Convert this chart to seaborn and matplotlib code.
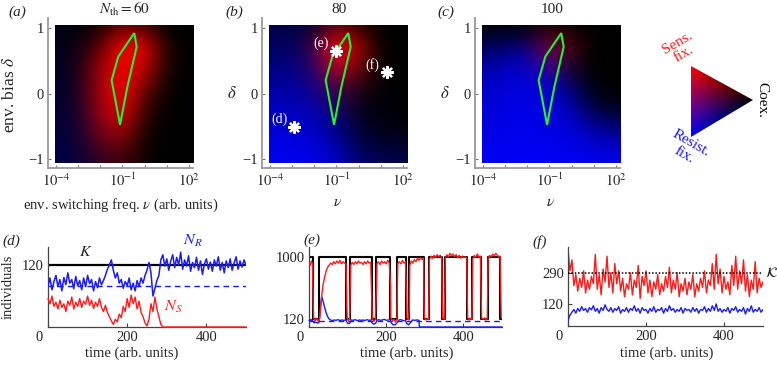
import numpy as np
import matplotlib
matplotlib.use('Agg')
import matplotlib.pyplot as plt
from matplotlib.patches import Polygon, Rectangle
from matplotlib.transforms import ScaledTranslation
import seaborn as sns

# ---------------- data ----------------
# heat map grids: rows delta = 1 ... -1 (step 0.25), cols log10(v) = -4 ... 2
log_v = [-4, -3, -2, -1, 0, 1, 2]
delta = [1, 0.75, 0.5, 0.25, 0, -0.25, -0.5, -0.75, -1]

red_a = [[0, 0, 0.08, 0.45, 0.30, 0, 0],
         [0, 0.04, 0.35, 1.00, 0.85, 0.10, 0],
         [0, 0.07, 0.55, 1.00, 0.80, 0.10, 0],
         [0, 0.09, 0.65, 1.00, 0.60, 0.06, 0],
         [0, 0.09, 0.65, 1.00, 0.35, 0.03, 0],
         [0, 0.08, 0.60, 0.90, 0.20, 0.02, 0],
         [0, 0.06, 0.50, 0.70, 0.10, 0, 0],
         [0, 0.04, 0.35, 0.45, 0.05, 0, 0],
         [0, 0.02, 0.20, 0.25, 0.03, 0, 0]]
blue_a = [[0.08, 0.04, 0, 0, 0, 0, 0],
          [0.10, 0.06, 0.01, 0, 0, 0, 0],
          [0.13, 0.08, 0.02, 0, 0, 0, 0],
          [0.16, 0.10, 0.03, 0, 0, 0, 0],
          [0.18, 0.13, 0.04, 0, 0, 0, 0],
          [0.20, 0.16, 0.06, 0.01, 0, 0, 0],
          [0.23, 0.18, 0.08, 0.02, 0, 0, 0],
          [0.26, 0.20, 0.10, 0.03, 0, 0, 0],
          [0.28, 0.23, 0.12, 0.04, 0.01, 0, 0]]

red_b = [[0, 0, 0.05, 0.45, 0.20, 0, 0],
         [0, 0, 0.22, 1.00, 0.60, 0.02, 0],
         [0, 0, 0.20, 0.90, 0.50, 0.02, 0],
         [0, 0, 0.12, 0.50, 0.28, 0.01, 0],
         [0, 0, 0.05, 0.22, 0.10, 0, 0],
         [0, 0, 0.02, 0.08, 0.04, 0, 0],
         [0, 0, 0, 0, 0, 0, 0],
         [0, 0, 0, 0, 0, 0, 0],
         [0, 0, 0, 0, 0, 0, 0]]
blue_b = [[0.30, 0.28, 0.18, 0.04, 0, 0, 0],
          [0.38, 0.36, 0.25, 0.05, 0.01, 0, 0],
          [0.48, 0.46, 0.35, 0.10, 0.03, 0, 0],
          [0.58, 0.56, 0.45, 0.20, 0.05, 0.01, 0],
          [0.68, 0.66, 0.56, 0.30, 0.08, 0.02, 0],
          [0.76, 0.75, 0.67, 0.40, 0.12, 0.04, 0.02],
          [0.84, 0.82, 0.76, 0.52, 0.18, 0.08, 0.05],
          [0.90, 0.89, 0.84, 0.64, 0.28, 0.18, 0.15],
          [0.94, 0.93, 0.91, 0.76, 0.45, 0.32, 0.28]]

red_c = [[0, 0, 0.02, 0.15, 0.05, 0, 0],
         [0, 0, 0.05, 0.50, 0.25, 0, 0],
         [0, 0, 0.03, 0.35, 0.15, 0, 0],
         [0, 0, 0.01, 0.12, 0.05, 0, 0],
         [0, 0, 0, 0, 0, 0, 0],
         [0, 0, 0, 0, 0, 0, 0],
         [0, 0, 0, 0, 0, 0, 0],
         [0, 0, 0, 0, 0, 0, 0],
         [0, 0, 0, 0, 0, 0, 0]]
blue_c = [[0.03, 0.06, 0.06, 0.03, 0, 0, 0],
          [0.28, 0.40, 0.38, 0.20, 0.04, 0, 0],
          [0.55, 0.70, 0.70, 0.45, 0.10, 0, 0],
          [0.70, 0.82, 0.82, 0.70, 0.25, 0.02, 0],
          [0.78, 0.88, 0.88, 0.82, 0.50, 0.08, 0.02],
          [0.82, 0.90, 0.90, 0.88, 0.70, 0.30, 0.15],
          [0.86, 0.92, 0.92, 0.90, 0.82, 0.60, 0.45],
          [0.90, 0.94, 0.94, 0.93, 0.90, 0.80, 0.75],
          [0.95, 0.96, 0.96, 0.96, 0.95, 0.92, 0.90]]

titles = [r'$N_{\rm th}=60$', '80', '100']

# green contour (log10 v, delta)
contour_logv = [-0.47, -0.36, -0.78, -1.11, -1.49, -1.19]
contour_delta = [0.93, 0.72, 0.11, -0.47, 0.21, 0.57]

# marked points in (b)
pts_logv = [-2.9, -1.0, 1.3]
pts_delta = [-0.5, 0.66, 0.33]
pts_labels = ['(d)', '(e)', '(f)']

# (d) time series, t = 0..500 step 5
t_d = np.arange(0, 505, 5)
d_nr = [80, 95, 72, 88, 100, 78, 92, 70, 96, 82,
        105, 85, 92, 74, 98, 80, 90, 72, 95, 78,
        100, 84, 92, 70, 88, 76, 95, 82, 90, 100,
        112, 120, 130, 110, 95, 105, 85, 92, 75, 88,
        80, 95, 72, 85, 70, 90, 78, 95, 85, 100,
        110, 125, 105, 60, 75, 90, 100, 130, 140, 118,
        132, 110, 128, 140, 115, 135, 120, 145, 112, 130,
        118, 138, 108, 125, 115, 135, 110, 128, 102, 122,
        132, 112, 126, 108, 130, 118, 136, 110, 125, 105,
        128, 115, 132, 110, 124, 136, 112, 128, 116, 130,
        120]
d_ns = [55, 45, 60, 40, 48, 35, 52, 38, 45, 30,
        50, 42, 58, 35, 48, 40, 55, 38, 50, 44,
        60, 42, 52, 36, 48, 40, 55, 38, 30, 42,
        28, 20, 12, 5, 15, 10, 25, 18, 40, 30,
        55, 38, 62, 45, 58, 35, 50, 28, 20, 8,
        2, 15, 45, 30, 58, 35, 20, 5, 0,
        0, 0, 0, 0, 0, 0, 0, 0, 0, 0, 0, 0, 0, 0,
        0, 0, 0, 0, 0, 0, 0, 0, 0, 0, 0, 0, 0, 0,
        0, 0, 0, 0, 0, 0, 0, 0, 0, 0, 0, 0, 0, 0]
d_k = 120
d_nr_fix = 80

# (e) time series
e_k_t = [0, 10, 27, 97, 106, 162, 174, 211, 228, 252, 260, 297, 311, 345, 352, 410, 423, 446, 463, 496, 500]
e_k = [1000, 120, 1000, 120, 1000, 120, 1000, 120, 1000, 120, 1000, 120, 1000, 120, 1000, 120, 1000, 120, 1000, 120, 120]
e_ns_t = [0, 3, 6, 9, 11, 12, 16, 20, 24, 27, 29, 31, 34, 37, 40, 44, 48, 52, 56, 60, 64, 68, 72, 76, 80, 84, 88, 92, 96,
          98, 99, 102, 105, 107, 108, 112, 116, 120, 124, 128, 132, 136, 140, 144, 148, 152, 156, 160,
          163, 164, 168, 172, 175, 176, 180, 184, 188, 192, 196, 200, 204, 208,
          211, 212, 216, 220, 224, 228, 229, 230, 234, 238, 242, 246, 250,
          253, 254, 258, 260, 261, 265, 269, 273, 277, 281, 285, 289, 293, 297,
          298, 299, 303, 307, 310, 311, 312, 316, 320, 324, 328, 332, 336, 340, 344,
          345, 346, 350, 352, 353, 357, 361, 365, 369, 373, 377, 381, 385, 389, 393, 397, 401, 405, 409,
          410, 411, 415, 419, 422, 423, 424, 428, 432, 436, 440, 444,
          446, 447, 451, 455, 459, 462, 463, 464, 468, 472, 476, 480, 484, 488, 492, 495,
          497, 498, 500]
e_ns = [920, 880, 940, 900, 300, 130, 90, 120, 80, 110, 200, 350, 500, 620, 700, 790, 850, 880, 910, 890, 930, 900, 940, 910, 950, 900, 930, 910, 900,
        300, 120, 90, 110, 600, 880, 920, 890, 930, 900, 940, 910, 920, 890, 930, 900, 940, 910, 920,
        300, 120, 80, 110, 600, 900, 930, 890, 940, 910, 930, 900, 950, 910,
        600, 130, 90, 110, 70, 120, 600, 900, 930, 900, 950, 910, 930,
        300, 120, 100, 300, 880, 940, 910, 960, 930, 980, 950, 990, 960, 980,
        300, 130, 100, 120, 110, 600, 960, 1010, 980, 1020, 990, 1030, 1000, 1020, 990,
        400, 130, 110, 500, 980, 1030, 1000, 1050, 1010, 1040, 1000, 1030, 990, 1020, 980, 1010, 990, 1000, 980,
        400, 130, 100, 120, 110, 600, 970, 1020, 990, 1040, 1000, 1010,
        400, 130, 110, 130, 100, 120, 600, 980, 1020, 1000, 1040, 1010, 1050, 1020, 1000, 1010,
        400, 130, 120]
e_nr_t = [0, 4, 8, 10, 14, 18, 22, 26, 28, 30, 33, 36, 40, 44, 48, 52, 56, 60, 65, 70, 75, 80, 85, 90, 96,
          98, 102, 106, 110, 115, 120, 125, 130, 135, 140, 145, 150, 155, 160, 163, 168, 173,
          176, 180, 185, 190, 195, 200, 205, 210, 213, 218, 224, 228, 232, 236, 240, 245, 250,
          253, 258, 262, 268, 274, 280, 285, 286, 500]
e_nr = [95, 90, 100, 80, 60, 70, 55, 65, 150, 300, 430, 380, 290, 210, 150, 115, 100, 90, 100, 95, 105, 92, 100, 95, 100,
        70, 45, 60, 100, 95, 105, 90, 100, 95, 100, 92, 105, 95, 100, 60, 40, 55,
        95, 105, 95, 100, 110, 95, 100, 105, 60, 30, 35, 60, 95, 105, 100, 90, 95,
        50, 30, 60, 100, 95, 100, 95, 0, 0]
e_nr_fix = 90

# (f) time series, t = 0..500 step 5
t_f = np.arange(0, 505, 5)
f_ns = [420, 300, 360, 220, 280, 190, 260, 210, 300, 180,
        250, 200, 270, 230, 390, 200, 280, 170, 310, 240,
        380, 210, 290, 180, 340, 230, 300, 190, 260, 160,
        230, 200, 290, 170, 250, 210, 330, 150, 270, 220,
        300, 180, 250, 160, 240, 200, 280, 170, 230, 190,
        270, 210, 320, 180, 250, 200, 290, 160, 230, 190,
        260, 170, 240, 200, 280, 160, 230, 190, 260, 210,
        300, 180, 250, 220, 340, 200, 390, 230, 310, 180,
        270, 200, 240, 170, 330, 220, 380, 200, 300, 230,
        360, 190, 280, 160, 250, 200, 350, 180, 260, 210,
        240]
f_nr = [30, 60, 75, 90, 70, 95, 80, 105, 85, 95,
        75, 100, 88, 110, 80, 95, 70, 100, 85, 115,
        90, 80, 100, 75, 95, 85, 105, 70, 90, 80,
        100, 75, 95, 85, 110, 80, 95, 70, 100, 85,
        90, 70, 95, 80, 105, 75, 90, 85, 100, 70,
        95, 80, 110, 85, 95, 75, 90, 80, 100, 70,
        95, 85, 90, 75, 100, 80, 95, 70, 90, 85,
        105, 75, 95, 80, 110, 85, 120, 80, 95, 75,
        90, 80, 100, 70, 95, 85, 105, 75, 90, 80,
        100, 65, 95, 80, 110, 75, 90, 80, 100, 75,
        90]
f_k = 290

# ---------------- style ----------------
sns.set_theme(style='ticks')
plt.rcParams['font.family'] = ['Liberation Serif', 'DejaVu Serif']
plt.rcParams['mathtext.fontset'] = 'stix'
plt.rcParams['font.size'] = 10
plt.rcParams['axes.unicode_minus'] = True

RED = '#ff1a1a'
BLUE = '#1a1aff'
GREEN = '#2af02a'
FS = 10.5
W, H = 777, 365

fig = plt.figure(figsize=(W / 100, H / 100), dpi=100)


def px_axes(l, t, r, b):
    return fig.add_axes([l / W, 1 - b / H, (r - l) / W, (b - t) / H])


def ftext(x, y, s, **kw):
    fig.text(x / W, 1 - y / H, s, **kw)


# ---------------- top row: heat maps ----------------
maps = [(48, red_a, blue_a), (262, red_b, blue_b), (475, red_c, blue_c)]
for i, (left, red, blue) in enumerate(maps):
    ax = px_axes(left, 18, left + 145, 168)
    r = np.array(red)
    b = np.array(blue)
    rgb = np.clip(np.dstack([r, np.zeros_like(r), b]), 0, 1)
    im = ax.imshow(rgb, extent=(log_v[0] - 0.5, log_v[-1] + 0.5,
                                delta[-1] - 0.125, delta[0] + 0.125),
                   origin='upper', interpolation='bicubic', aspect='auto')
    im.set_clip_path(Rectangle((-4.05, -1.05), 6.25, 2.1, transform=ax.transData))
    ax.add_patch(Polygon(np.column_stack([contour_logv, contour_delta]), closed=True,
                         fill=False, ec=GREEN, lw=1.5, zorder=5))
    ax.set_xlim(-4.36, 2.18)
    ax.set_ylim(-1.13, 1.16)
    sns.despine(ax=ax)
    for sp in ['left', 'bottom']:
        ax.spines[sp].set_color('#9a9a9a')
        ax.spines[sp].set_linewidth(1.3)
    ax.set_xticks(log_v)
    ax.set_xticklabels(['$10^{-4}$', '', '', '$10^{-1}$', '', '', '$10^{2}$'])
    ax.set_yticks([-1, 0, 1])
    ax.set_yticklabels(['\u22121', '0', '1'])
    ax.tick_params(direction='in', length=2.5, width=0.8, color='#777777',
                   labelsize=FS, pad=3)
    ax.text(0.53, 1.055, titles[i], transform=ax.transAxes, ha='center', va='center',
            fontsize=11)
    if i == 0:
        ax.set_xlabel(r'env. switching freq. $\nu$ (arb. units)', fontsize=FS)
        ax.set_ylabel(r'env. bias $\delta$', fontsize=12.5)
        ax.yaxis.set_label_coords(-0.21, 0.49)
    else:
        ax.set_xlabel(r'$\nu$', fontsize=11)
        ax.set_ylabel(r'$\delta$', fontsize=12, rotation=0, va='center')
        ax.yaxis.set_label_coords(-0.205, 0.49)
    ax.xaxis.set_label_coords(0.5 if i == 0 else 0.52, -0.19)
    if i == 1:
        ax.plot(pts_logv, pts_delta, ls='none', marker=(8, 2, 0), ms=9, mew=1.6,
                color='white', zorder=6)
        for x, y, s in zip(pts_logv, pts_delta, pts_labels):
            ax.annotate(s, (x, y), xytext=(-11, 5.5), textcoords='offset points',
                        ha='center', va='center', color='white', fontsize=10)

ftext(17, 12, '(a)', style='italic', ha='center', va='center', fontsize=11)
ftext(234, 12, '(b)', style='italic', ha='center', va='center', fontsize=11)
ftext(446, 12, '(c)', style='italic', ha='center', va='center', fontsize=11)

# ---------------- triangle legend ----------------
tax = px_axes(655, 20, 777, 180)
tax.set_xlim(655, 777)
tax.set_ylim(180, 20)
tax.axis('off')
R = (691, 66)
B = (691, 137)
K = (753, 100)
gx, gy = np.meshgrid(np.linspace(655, 777, 244), np.linspace(20, 180, 320))
det = (B[1] - K[1]) * (R[0] - K[0]) + (K[0] - B[0]) * (R[1] - K[1])
w_r = ((B[1] - K[1]) * (gx - K[0]) + (K[0] - B[0]) * (gy - K[1])) / det
w_b = ((K[1] - R[1]) * (gx - K[0]) + (R[0] - K[0]) * (gy - K[1])) / det
tri_rgb = np.clip(np.dstack([w_r, np.zeros_like(w_r), w_b]), 0, 1)
tim = tax.imshow(tri_rgb, extent=(655, 777, 180, 20), origin='upper',
                 interpolation='bilinear', aspect='auto')
tim.set_clip_path(Polygon([R, B, K], closed=True, transform=tax.transData))
tax.text(681, 48, 'Sens.\nfix.', color=RED, rotation=30, ha='center', va='center',
         rotation_mode='anchor', fontsize=11, linespacing=1.0)
tax.text(688, 149, 'Resist.\nfix.', color=BLUE, rotation=-30, ha='center', va='center',
         rotation_mode='anchor', fontsize=11, linespacing=1.0)
tax.text(762, 100, 'Coex.', color='black', rotation=-90, ha='center', va='center',
         fontsize=11)

# ---------------- bottom row: time series ----------------


def style_ts(ax, ylim, yticks):
    ax.set_xlim(0, 500)
    ax.set_ylim(*ylim)
    sns.despine(ax=ax)
    for sp in ['left', 'bottom']:
        ax.spines[sp].set_color('#444444')
        ax.spines[sp].set_linewidth(0.9)
    ax.set_xticks([0, 200, 400])
    ax.set_yticks(yticks)
    ax.tick_params(direction='in', length=3, width=0.8, color='#444444',
                   labelsize=FS, pad=3)
    ax.set_xlabel('')
    ax.set_ylabel('')
    tk = ax.xaxis.get_major_ticks()[0]
    tk.label1.set_transform(tk.label1.get_transform()
                            + ScaledTranslation(-0.09, 0, fig.dpi_scale_trans))


# (d)
axd = px_axes(48, 247, 246, 327)
axd.axhline(d_nr_fix, color=BLUE, ls=(0, (4, 3)), lw=1.0, zorder=1)
axd.axhline(d_k, color='black', lw=1.6, zorder=2)
sns.lineplot(x=t_d, y=d_nr, ax=axd, color=BLUE, lw=1.1, estimator=None, sort=False, zorder=3)
sns.lineplot(x=t_d, y=d_ns, ax=axd, color=RED, lw=1.0, estimator=None, sort=False, zorder=4,
             clip_on=False)
style_ts(axd, (0, 155), [120])
axd.text(96, 145, '$K$', ha='center', va='center', fontsize=11.5)
axd.text(365, 166, '$N_R$', color=BLUE, ha='center', va='center', fontsize=11.5,
         clip_on=False)
axd.text(316, 39, '$N_S$', color=RED, ha='center', va='center', fontsize=11.5)

# (e)
axe = px_axes(309, 247, 502, 327)
axe.axhline(e_nr_fix, color=BLUE, ls=(0, (4, 3)), lw=1.0, zorder=1)
sns.lineplot(x=e_k_t, y=e_k, ax=axe, color='black', lw=1.5, estimator=None, sort=False,
             drawstyle='steps-post', zorder=2)
sns.lineplot(x=e_nr_t, y=e_nr, ax=axe, color=BLUE, lw=1.0, estimator=None, sort=False,
             zorder=3, clip_on=False)
sns.lineplot(x=e_ns_t, y=e_ns, ax=axe, color=RED, lw=1.0, estimator=None, sort=False, zorder=4)
style_ts(axe, (0, 1140), [120, 1000])

# (f)
axf = px_axes(568, 247, 763, 326)
sns.lineplot(x=t_f, y=f_ns, ax=axf, color=RED, lw=1.0, estimator=None, sort=False, zorder=2)
sns.lineplot(x=t_f, y=f_nr, ax=axf, color=BLUE, lw=1.0, estimator=None, sort=False, zorder=3)
axf.axhline(f_k, color='black', ls=(0, (1, 1.2)), lw=1.1, zorder=5)
style_ts(axf, (0, 430), [120, 290])
axf.text(504, 290, r'$\mathcal{K}$', ha='left', va='center', fontsize=10, clip_on=False)

ftext(8, 287, 'individuals', rotation=90, ha='center', va='center', fontsize=FS)
ftext(132, 353, 'time (arb. units)', ha='center', va='center', fontsize=FS)
ftext(407, 353, 'time (arb. units)', ha='center', va='center', fontsize=FS)
ftext(667, 353, 'time (arb. units)', ha='center', va='center', fontsize=FS)
ftext(11, 241, '(d)', style='italic', ha='center', va='center', fontsize=11)
ftext(312, 240, '(e)', style='italic', ha='center', va='center', fontsize=11)
ftext(540, 242, '(f)', style='italic', ha='center', va='center', fontsize=11)

fig.savefig('out.png', dpi=100)
